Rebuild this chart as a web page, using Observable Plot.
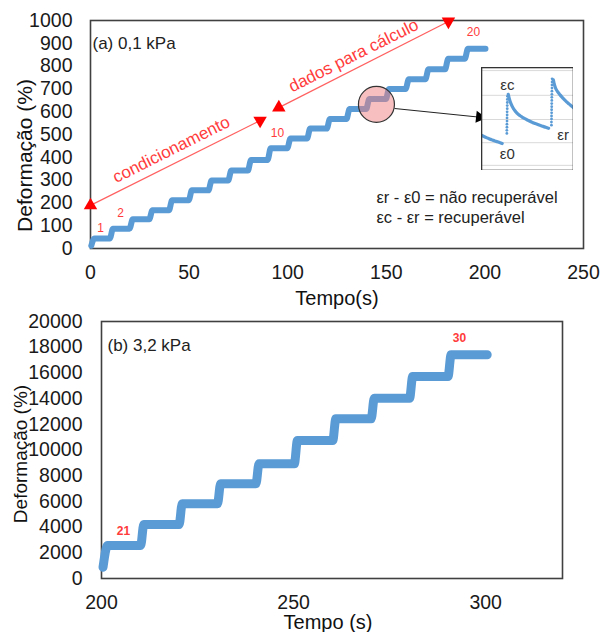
<!DOCTYPE html>
<html><head><meta charset="utf-8">
<script src="https://cdn.jsdelivr.net/npm/d3@7"></script>
<script src="https://cdn.jsdelivr.net/npm/@observablehq/plot@0.6"></script>
<style>
body{margin:0;background:#fff;}
#wrap{position:relative;width:600px;height:632px;overflow:hidden;font-family:"Liberation Sans",Arial,sans-serif;}
#top,#bot,#inset{position:absolute;}
#top{left:0;top:0}
#bot{left:0;top:310px}
#inset{left:481px;top:67px}
</style></head><body>
<div id="wrap"><div id="top"></div><div id="bot"></div><div id="inset"></div></div>
<script>
// ---------- Data: panel (a) 0,1 kPa ----------
const stepTimesA = [0,10,20,30,40,50,60,70,80,90,100,110,120,130,140,150,160,170,180,190];
const levelsA = [44,87,128,168,212,255,298,342,388,440,482,526,568,612,656,700,742,786,832,876];
const startA = {t: 0.4, v: 12};
const endTimeA = 200.3;
const xTicksA = [0,50,100,150,200,250];
const yTicksA = [0,100,200,300,400,500,600,700,800,900,1000];
const cycleLabelsA = [{t:5.1, v:88, s:"1"},{t:15.2, v:154, s:"2"},{t:94.8, v:504, s:"10"},{t:194.2, v:947, s:"20"}];
const arrowsA = [{t1:0, v1:189, t2:86, v2:561},{t1:95.5, v1:618, t2:181.5, v2:996}];
const arrowTextA = [{t:41, v:434, s:"condicionamento"},{t:133.4, v:846, s:"dados para cálculo"}];
const circleA = [{t:145, v:632}];
const pointerA = [{t1:154.2, v1:614, t2:197.3, v2:576}];
const noteA = [{t:145, v:224, s:"εr - ε0 = não recuperável"},{t:145, v:136, s:"εc - εr = recuperável"}];

// ---------- Data: panel (b) 3,2 kPa ----------
const stepTimesB = [200,210,220,230,240,250,260,270,280,290];
const levelsB = [2570,4200,5810,7370,8930,10740,12430,14030,15720,17410];
const startB = {t: 200.4, v: 880};
const endTimeB = 300.4;
const xTicksB = [200,250,300];
const yTicksB = [0,2000,4000,6000,8000,10000,12000,14000,16000,18000,20000];
const cycleLabelsB = [{t:205.7, v:3650, s:"21"},{t:293.2, v:18680, s:"30"}];

// ---------- Data: inset (creep / recovery detail) ----------
const insetGrid = [5,27,49.5,73,97];
const insetDecay0 = [[0.1,34],[1.5,31],[3,28.5],[4.5,26]];
const insetRise1 = [[5.4,36],[5.4,39],[5.42,42],[5.42,45],[5.44,48],[5.44,51],[5.46,54],[5.46,57],[5.48,60],[5.48,63],[5.5,66],[5.5,69],[5.52,72]];
const insetDecay1 = [[5.7,74],[6.1,67],[6.7,61],[7.5,56],[8.6,52],[10,48.5],[11.5,45.5],[13,43],[14.3,41]];
const insetRise2 = [[14.9,44],[14.9,47],[14.92,50],[14.92,53],[14.94,56],[14.94,59],[14.96,62],[14.96,65],[14.98,68],[14.98,71],[15,74],[15,77],[15.02,80],[15.02,83],[15.04,86],[15.04,89]];
const insetDecay2 = [[15.3,88],[15.7,81],[16.3,76],[17.2,71],[18.3,66],[19.6,61]];
const insetLabels = [{t:5.5, v:82.5, s:"εc"},{t:17.4, v:34, s:"εr"},{t:5.5, v:15.5, s:"ε0"}];

// ---------- build step paths from level arrays ----------
function stepPath(start, times, levels, endT, r0, r1) {
  const pts = [start];
  times.forEach((T, i) => {
    if (i > 0) pts.push({t: T + r0, v: levels[i-1]});
    pts.push({t: T + r1 + (i === 0 ? 0.6 : 0), v: levels[i]});
  });
  pts.push({t: endT, v: levels[levels.length-1]});
  return pts;
}
const ptsA = stepPath(startA, stepTimesA, levelsA, endTimeA, -0.2, 1.4);
const ptsB = stepPath(startB, stepTimesB, levelsB, endTimeB, 0.2, 1.0);

const FONT = "'Liberation Sans', Arial, sans-serif";
const BLUE = "#5B9BD5";
const RED = "#FF3B3B";
const TICKFS = 19.5;

function fixTicks(svg) {
  d3.select(svg).selectAll('g[aria-label="y-axis tick label"], g[aria-label="x-axis tick label"]')
    .attr("font-size", TICKFS).style("font-size", TICKFS + "px").attr("fill", "#1a1a1a");
  return svg;
}

// ---------- Panel (a) ----------
const plotA = Plot.plot({
  width: 600, height: 310,
  marginLeft: 90, marginRight: 17, marginTop: 20, marginBottom: 62,
  style: {fontFamily: FONT, fontSize: "19px", color: "#222", background: "transparent"},
  x: {domain: [0, 250]},
  y: {domain: [0, 1000]},
  marks: [
    Plot.axisY({ticks: yTicksA, tickSize: 0, tickPadding: 18, fontSize: TICKFS, label: null, tickFormat: d => String(d)}),
    Plot.axisX({ticks: xTicksA, tickSize: 0, tickPadding: 17, fontSize: TICKFS, label: null, tickFormat: d => String(d)}),
    Plot.frame({stroke: "#404040", strokeWidth: 1.6}),
    Plot.line(ptsA, {x: "t", y: "v", stroke: BLUE, strokeWidth: 6, curve: "monotone-x", strokeLinejoin: "round", strokeLinecap: "round"}),
    Plot.link(arrowsA, {x1: "t1", y1: "v1", x2: "t2", y2: "v2", stroke: "#FF6060", strokeWidth: 1.2}),
    Plot.dot(arrowsA, {x: "t1", y: "v1", symbol: "triangle", r: 5, fill: "#FF0000", stroke: "none"}),
    Plot.dot(arrowsA, {x: "t2", y: "v2", symbol: "triangle", r: 5, fill: "#FF0000", stroke: "none", rotate: 180}),
    Plot.text(arrowTextA, {x: "t", y: "v", text: "s", rotate: -26.6, fill: RED, fontSize: 17}),
    Plot.text(cycleLabelsA, {x: "t", y: "v", text: "s", fill: RED, fontSize: 12}),
    Plot.dot(circleA, {x: "t", y: "v", r: 18, fill: "#F08080", fillOpacity: 0.5, stroke: "#333", strokeWidth: 1.2}),
    Plot.link(pointerA, {x1: "t1", y1: "v1", x2: "t2", y2: "v2", stroke: "#222", strokeWidth: 1}),
    Plot.dot(pointerA, {x: "t2", y: "v2", symbol: "triangle", r: 4.5, fill: "#000", stroke: "none", rotate: 96}),
    Plot.text(noteA, {x: "t", y: "v", text: "s", textAnchor: "start", fill: "#222", fontSize: 16.5}),
    Plot.text(["(a) 0,1 kPa"], {frameAnchor: "top-left", textAnchor: "start", lineAnchor: "middle", dx: 2, dy: 23, fontSize: 17, fill: "#222"}),
    Plot.text(["Tempo(s)"], {frameAnchor: "bottom", textAnchor: "middle", lineAnchor: "middle", dy: 50, fontSize: 20, fill: "#111"}),
    Plot.text(["Deformação (%)"], {frameAnchor: "left", textAnchor: "middle", lineAnchor: "middle", rotate: -90, dx: -65, dy: 21, fontSize: 21, fill: "#111"})
  ]
});
document.getElementById("top").appendChild(fixTicks(plotA));

// ---------- Inset ----------
const insetPlot = Plot.plot({
  width: 92, height: 103,
  margin: 0,
  style: {fontFamily: FONT, background: "white"},
  x: {domain: [0, 19.6], axis: null},
  y: {domain: [0, 100], axis: null},
  marks: [
    Plot.ruleY(insetGrid, {stroke: "#d9d9d9", strokeWidth: 1}),
    Plot.line(insetDecay0, {x: d => d[0], y: d => d[1], stroke: BLUE, strokeWidth: 3.2, strokeDasharray: "2.2,0.6", curve: "natural"}),
    Plot.line(insetDecay1, {x: d => d[0], y: d => d[1], stroke: BLUE, strokeWidth: 3.2, strokeDasharray: "2.2,0.6", curve: "natural"}),
    Plot.line(insetDecay2, {x: d => d[0], y: d => d[1], stroke: BLUE, strokeWidth: 3.2, strokeDasharray: "2.2,0.6", curve: "natural"}),
    Plot.dot(insetRise1, {x: d => d[0], y: d => d[1], r: 1.4, fill: BLUE, stroke: "none"}),
    Plot.dot(insetRise2, {x: d => d[0], y: d => d[1], r: 1.4, fill: BLUE, stroke: "none"}),
    Plot.text(insetLabels, {x: "t", y: "v", text: "s", fontSize: 15, fill: "#333"}),
    Plot.frame({stroke: "#333", strokeWidth: 1.6})
  ]
});
document.getElementById("inset").appendChild(insetPlot);

// ---------- Panel (b) ----------
const plotB = Plot.plot({
  width: 600, height: 322,
  marginLeft: 101, marginRight: 38, marginTop: 11, marginBottom: 54,
  style: {fontFamily: FONT, fontSize: "19px", color: "#222", background: "transparent"},
  x: {domain: [200, 320]},
  y: {domain: [0, 20000]},
  marks: [
    Plot.axisY({ticks: yTicksB, tickSize: 0, tickPadding: 19, fontSize: TICKFS, label: null, tickFormat: d => String(d)}),
    Plot.axisX({ticks: xTicksB, tickSize: 0, tickPadding: 17, fontSize: TICKFS, label: null, tickFormat: d => String(d)}),
    Plot.frame({stroke: "#404040", strokeWidth: 1.6}),
    Plot.line(ptsB, {x: "t", y: "v", stroke: BLUE, strokeWidth: 9, curve: "monotone-x", strokeLinejoin: "round", strokeLinecap: "round"}),
    Plot.text(cycleLabelsB, {x: "t", y: "v", text: "s", fill: RED, fontSize: 12, fontWeight: "bold"}),
    Plot.text(["(b) 3,2 kPa"], {frameAnchor: "top-left", textAnchor: "start", lineAnchor: "middle", dx: 6, dy: 24, fontSize: 17, fill: "#222"}),
    Plot.text(["Tempo (s)"], {frameAnchor: "bottom", textAnchor: "middle", lineAnchor: "middle", dx: -4, dy: 44, fontSize: 20, fill: "#111"}),
    Plot.text(["Deformação (%)"], {frameAnchor: "left", textAnchor: "middle", lineAnchor: "middle", rotate: -90, dx: -81, dy: 4, fontSize: 19, fill: "#111"})
  ]
});
document.getElementById("bot").appendChild(fixTicks(plotB));
</script>
</body></html>
